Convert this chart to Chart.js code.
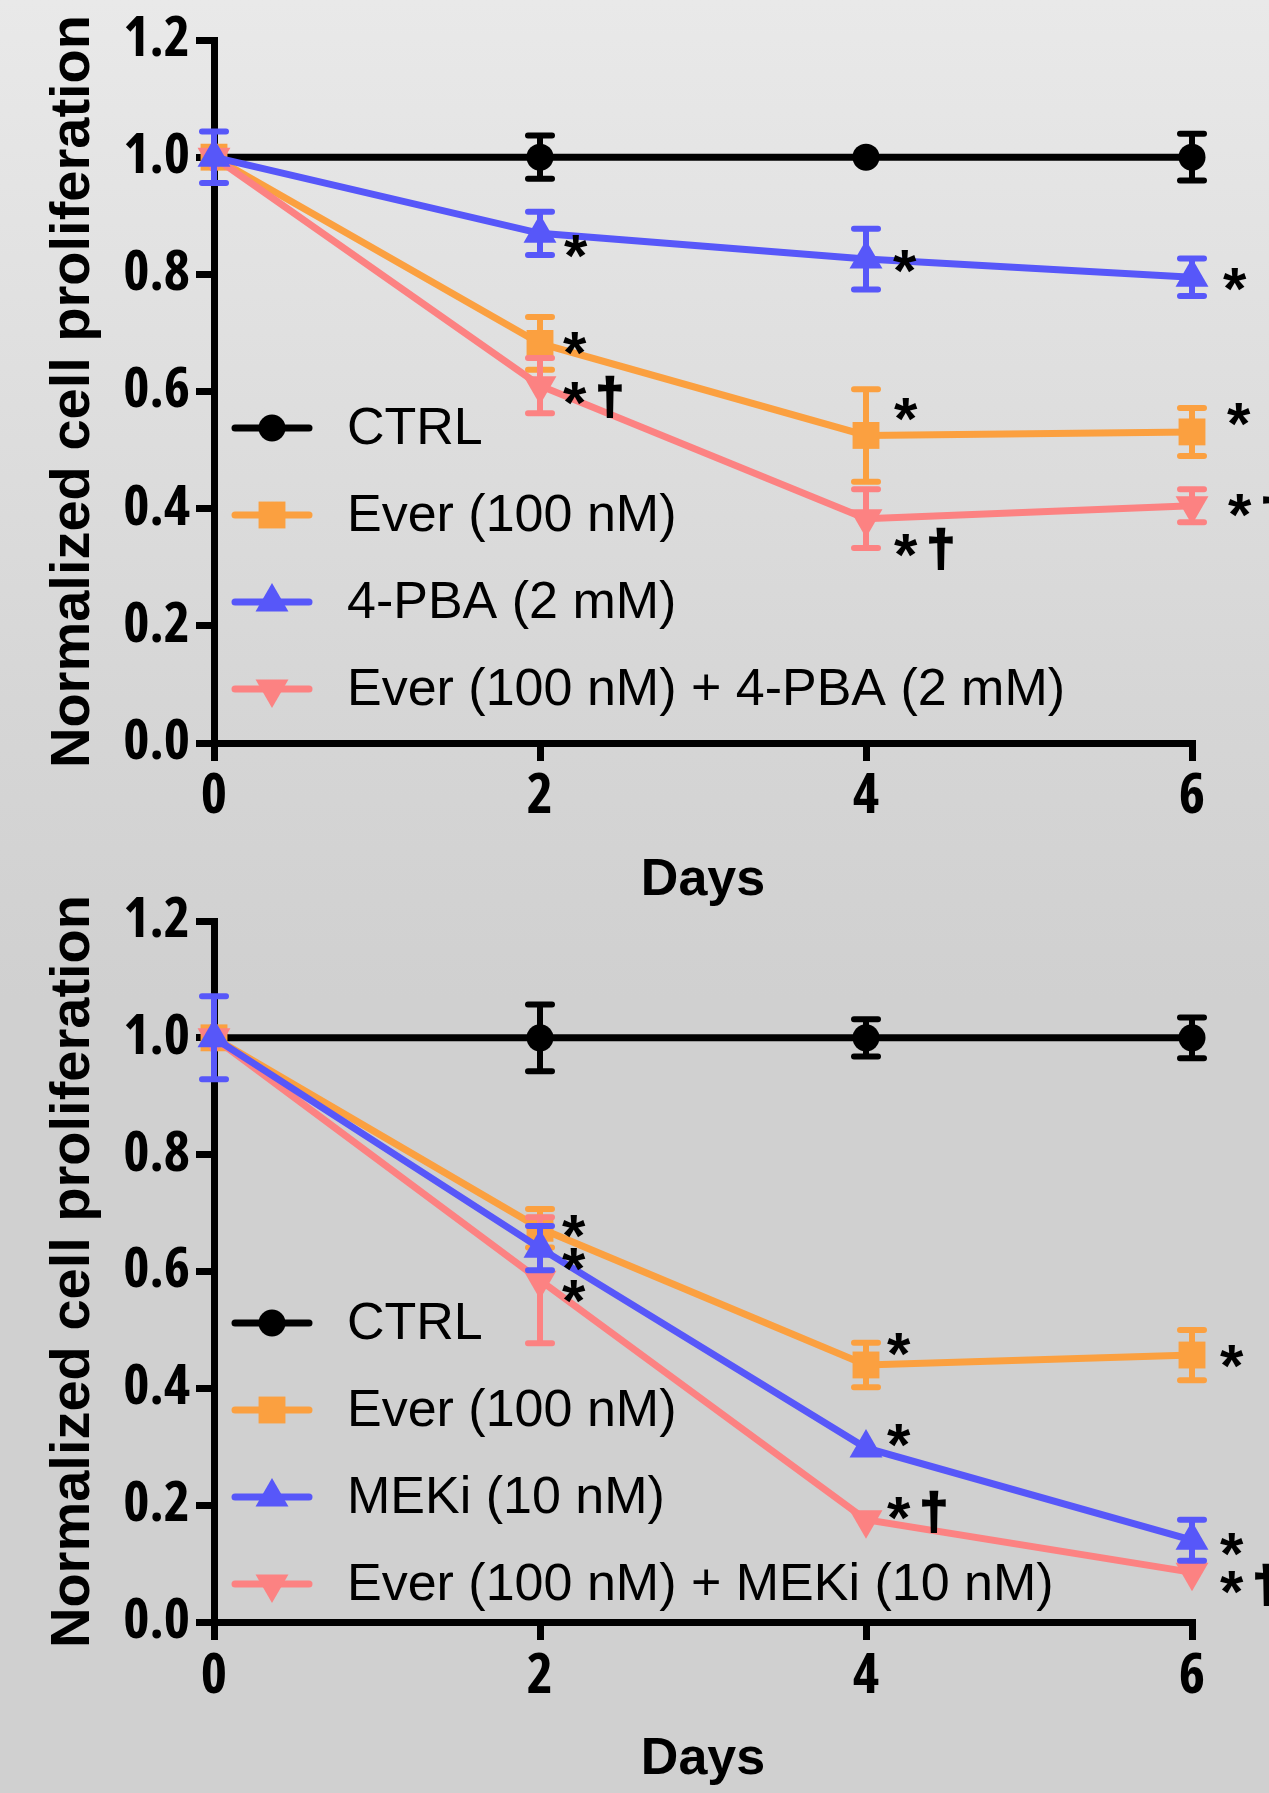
<!DOCTYPE html>
<html>
<head>
<meta charset="utf-8">
<title>Normalized cell proliferation</title>
<script src="https://cdn.jsdelivr.net/npm/chart.js@4.4.1/dist/chart.umd.min.js"></script>
<style>
  html, body { margin: 0; padding: 0; }
  body {
    width: 1269px; height: 1793px; position: relative; overflow: hidden;
    background: linear-gradient(to bottom, #e9e9e9 0px, #d6d6d6 700px, #d0d0d0 1000px, #d0d0d0 1793px);
  }
  canvas { position: absolute; left: 0; }
  #chart-top { top: 0; }
  #chart-bottom { top: 860px; }
</style>
</head>
<body>
<canvas id="chart-top" width="1269" height="940"></canvas>
<canvas id="chart-bottom" width="1269" height="933"></canvas>
<script>
// --- data ---
const days = [0, 2, 4, 6];
const yTicks = [0, 0.2, 0.4, 0.6, 0.8, 1.0, 1.2];

// top panel: everolimus + 4-PBA
const labelsTop = ['CTRL', 'Ever (100 nM)', '4-PBA (2 mM)', 'Ever (100 nM) + 4-PBA (2 mM)'];
const ctrlTop = [1.0, 1.0, 1.0, 1.0];
const ctrlTopErr = [0, 0.037, 0, 0.04];
const everTop = [1.0, 0.682, 0.525, 0.531];
const everTopErr = [0, 0.045, 0.079, 0.041];
const pbaTop = [1.0, 0.870, 0.826, 0.795];
const pbaTopErr = [0.044, 0.037, 0.052, 0.032];
const everPbaTop = [1.0, 0.610, 0.383, 0.405];
const everPbaTopErr = [0, 0.047, 0.050, 0.028];
const everTopNotes = ['', '*', '*', '*'];
const pbaTopNotes = ['', '*', '*', '*'];
const everPbaTopNotes = ['', '*†', '*†', '*†'];

// bottom panel: everolimus + MEK inhibitor
const labelsBottom = ['CTRL', 'Ever (100 nM)', 'MEKi (10 nM)', 'Ever (100 nM) + MEKi (10 nM)'];
const ctrlBottom = [1.0, 1.0, 1.0, 1.0];
const ctrlBottomErr = [0, 0.057, 0.032, 0.035];
const everBottom = [1.0, 0.674, 0.440, 0.457];
const everBottomErr = [0, 0.033, 0.038, 0.043];
const mekBottom = [1.0, 0.640, 0.298, 0.140];
const mekBottomErr = [0.071, 0.038, 0, 0.035];
const everMekBottom = [1.0, 0.585, 0.175, 0.085];
const everMekBottomErr = [0, 0.108, 0, 0];
const everBottomNotes = ['', '*', '*', '*'];
const mekBottomNotes = ['', '*', '*', '*'];
const everMekBottomNotes = ['', '*', '*†', '*†'];

// --- styles ---
const COLORS = { ctrl: '#000000', ever: '#FBA040', combo: '#FC8282', other: '#5757F9' };
const SANS = '"Liberation Sans", Arial, sans-serif';
const STAR_FONT = 'bold 60px ' + SANS;
const DAGGER_FONT = 'bold 50px ' + SANS;
const LEGEND_FONT = '52px ' + SANS;

// tick labels in the original are a condensed bold sans; use whichever narrow face is installed
const tickFontCandidates = [
  { family: '"Liberation Sans Narrow"', weight: 'bold' },
  { family: '"Noto Sans"', weight: 'bold condensed' },
  { family: '"Noto Sans Condensed"', weight: 'bold' },
  { family: '"Open Sans"', weight: 'bold condensed' },
  { family: '"Liberation Sans"', weight: 'bold' },
];

function pickTickFont() {
  const ctx = document.createElement('canvas').getContext('2d');
  const probe = (spec, fallback) => {
    ctx.font = `${spec.weight} 100px ${spec.family}, ${fallback}`;
    return ctx.measureText('0.8');
  };
  let best = null;
  tickFontCandidates.forEach((spec) => {
    const a = probe(spec, 'monospace');
    const b = probe(spec, 'serif');
    if (Math.abs(a.width - b.width) > 0.5) return; // not installed
    const score = Math.abs(a.width / a.actualBoundingBoxAscent - 1.6);
    if (!best || score < best.score) best = { spec, score };
  });
  return best ? best.spec : { family: SANS, weight: 'bold' };
}
const tickFace = pickTickFont();

// where each note sits relative to its point (px)
const noteOffsetsTop = {
  ever: [null, [35, 0], [40, -26], [47, -17]],
  other: [null, [36, 13], [39, 2], [43, 2]],
  combo: [null, [35, 8], [40, 27], [48, 0]],
};
const noteOffsetsBottom = {
  ever: [null, [34, -2], [33, -20], [40, 1]],
  other: [null, [34, 11], [33, -12], [40, 4]],
  combo: [null, [34, 11], [33, -11], [40, 10]],
};

function toPoints(values) {
  return values.map((v, i) => ({ x: days[i], y: v }));
}

function series(label, values, errors, notes, key, pointStyle, radius, rotation, order, offsets) {
  return {
    label,
    data: toPoints(values),
    errors,
    notes,
    noteOffsets: offsets ? offsets[key] : null,
    borderColor: COLORS[key],
    backgroundColor: COLORS[key],
    pointBackgroundColor: COLORS[key],
    borderWidth: 7,
    pointStyle,
    pointRadius: radius,
    pointRotation: rotation,
    pointBorderWidth: 0,
    tension: 0,
    clip: false,
    order,
  };
}

// error bars sit behind the markers, like Prism does
const errorBars = {
  id: 'errorBars',
  beforeDatasetDraw(chart, args) {
    const ds = chart.data.datasets[args.index];
    if (!ds.errors) return;
    const ctx = chart.ctx;
    const yScale = chart.scales.y;
    ctx.save();
    ctx.strokeStyle = ds.borderColor;
    ctx.lineWidth = 6;
    ctx.lineCap = 'round';
    args.meta.data.forEach((pt, i) => {
      const e = ds.errors[i];
      if (!e) return;
      const v = ds.data[i].y;
      const top = yScale.getPixelForValue(v + e);
      const bot = yScale.getPixelForValue(v - e);
      ctx.beginPath();
      ctx.moveTo(pt.x, top); ctx.lineTo(pt.x, bot);
      ctx.moveTo(pt.x - 12, top); ctx.lineTo(pt.x + 12, top);
      ctx.moveTo(pt.x - 12, bot); ctx.lineTo(pt.x + 12, bot);
      ctx.stroke();
    });
    ctx.restore();
  },
};

function drawGlyph(ctx, ch, font, cx, cy, thicken) {
  ctx.font = font;
  const m = ctx.measureText(ch);
  const x = cx - (m.actualBoundingBoxRight - m.actualBoundingBoxLeft) / 2;
  const y = cy + (m.actualBoundingBoxAscent - m.actualBoundingBoxDescent) / 2;
  ctx.fillText(ch, x, y);
  if (thicken) {
    ctx.lineWidth = thicken;
    ctx.strokeStyle = ctx.fillStyle;
    ctx.strokeText(ch, x, y);
  }
}

const significance = {
  id: 'significance',
  afterDatasetsDraw(chart) {
    const ctx = chart.ctx;
    ctx.save();
    ctx.fillStyle = '#000';
    ctx.textAlign = 'left';
    ctx.textBaseline = 'alphabetic';
    chart.data.datasets.forEach((ds, di) => {
      if (!ds.notes) return;
      const meta = chart.getDatasetMeta(di);
      ds.notes.forEach((txt, i) => {
        if (!txt) return;
        const pt = meta.data[i];
        const [dx, dy] = ds.noteOffsets[i];
        const cx = pt.x + dx;
        const cy = pt.y + dy;
        drawGlyph(ctx, '*', STAR_FONT, cx, cy, 0);
        if (txt.includes('†')) drawGlyph(ctx, '†', DAGGER_FONT, cx + 35, cy + 3, 2.5);
      });
    });
    ctx.restore();
  },
};

const insideLegend = {
  id: 'insideLegend',
  afterDraw(chart, args, opts) {
    const { ctx, chartArea } = chart;
    chart.data.datasets.forEach((ds, i) => {
      const y = chartArea.top + opts.top + i * opts.step;
      const x0 = chartArea.left + 21;
      ctx.save();
      ctx.strokeStyle = ds.borderColor;
      ctx.lineWidth = 7;
      ctx.lineCap = 'round';
      ctx.beginPath();
      ctx.moveTo(x0, y);
      ctx.lineTo(x0 + 74, y);
      ctx.stroke();
      ctx.fillStyle = ds.borderColor;
      Chart.helpers.drawPoint(ctx, {
        pointStyle: ds.pointStyle, radius: ds.pointRadius, rotation: ds.pointRotation, borderWidth: 0,
      }, x0 + 37, y);
      ctx.fillStyle = '#000';
      ctx.font = LEGEND_FONT;
      ctx.textBaseline = 'middle';
      ctx.textAlign = 'left';
      ctx.fillText(ds.label, chartArea.left + 133, y + 2);
      ctx.restore();
    });
  },
};

function makeChart(id, datasets, padding, tickPad, legendTop) {
  const tickFont = { family: tickFace.family, size: 56, weight: tickFace.weight, lineHeight: 1 };
  const grid = {
    drawOnChartArea: false, drawTicks: true, tickLength: 18, tickWidth: 7,
    tickColor: '#000', lineWidth: 7, color: '#000',
  };
  return new Chart(document.getElementById(id), {
    type: 'line',
    data: { datasets },
    options: {
      responsive: false,
      animation: false,
      devicePixelRatio: 1,
      layout: { padding },
      plugins: {
        legend: { display: false },
        tooltip: { enabled: false },
        insideLegend: { top: legendTop, step: 87 },
      },
      scales: {
        x: {
          type: 'linear', min: 0, max: 6,
          ticks: { stepSize: 2, color: '#000', font: tickFont, padding: tickPad, maxRotation: 0 },
          grid,
          border: { display: true, width: 7, color: '#000' },
          title: {
            display: true, text: 'Days', color: '#000', padding: 0,
            font: { family: SANS, size: 52, weight: 'bold', lineHeight: 1 },
          },
          afterFit: (s) => { s.height = 164; },
        },
        y: {
          type: 'linear', min: 0, max: 1.2,
          afterBuildTicks: (s) => { s.ticks = yTicks.map((v) => ({ value: v })); },
          ticks: { color: '#000', font: tickFont, padding: 6, callback: (v) => Number(v).toFixed(1) },
          grid,
          border: { display: true, width: 7, color: '#000' },
          title: {
            display: true, text: 'Normalized cell proliferation', color: '#000', padding: 0,
            font: { family: SANS, size: 56, weight: 'bold', lineHeight: 1 },
          },
          afterFit: (s) => { s.width = 168; },
        },
      },
    },
    plugins: [errorBars, significance, insideLegend],
  });
}

makeChart('chart-top', [
  series(labelsTop[0], ctrlTop, ctrlTopErr, null, 'ctrl', 'circle', 13.5, 0, 3, null),
  series(labelsTop[1], everTop, everTopErr, everTopNotes, 'ever', 'rect', 19, 0, 2, noteOffsetsTop),
  series(labelsTop[2], pbaTop, pbaTopErr, pbaTopNotes, 'other', 'triangle', 19, 0, 0, noteOffsetsTop),
  series(labelsTop[3], everPbaTop, everPbaTopErr, everPbaTopNotes, 'combo', 'triangle', 19, 180, 1, noteOffsetsTop),
], { top: 40, right: 77, bottom: 33, left: 46 }, 8, 388);

makeChart('chart-bottom', [
  series(labelsBottom[0], ctrlBottom, ctrlBottomErr, null, 'ctrl', 'circle', 13.5, 0, 3, null),
  series(labelsBottom[1], everBottom, everBottomErr, everBottomNotes, 'ever', 'rect', 19, 0, 2, noteOffsetsBottom),
  series(labelsBottom[2], mekBottom, mekBottomErr, mekBottomNotes, 'other', 'triangle', 19, 0, 0, noteOffsetsBottom),
  series(labelsBottom[3], everMekBottom, everMekBottomErr, everMekBottomNotes, 'combo', 'triangle', 19, 180, 1, noteOffsetsBottom),
], { top: 61, right: 77, bottom: 7, left: 46 }, 9, 402);
</script>
</body>
</html>
